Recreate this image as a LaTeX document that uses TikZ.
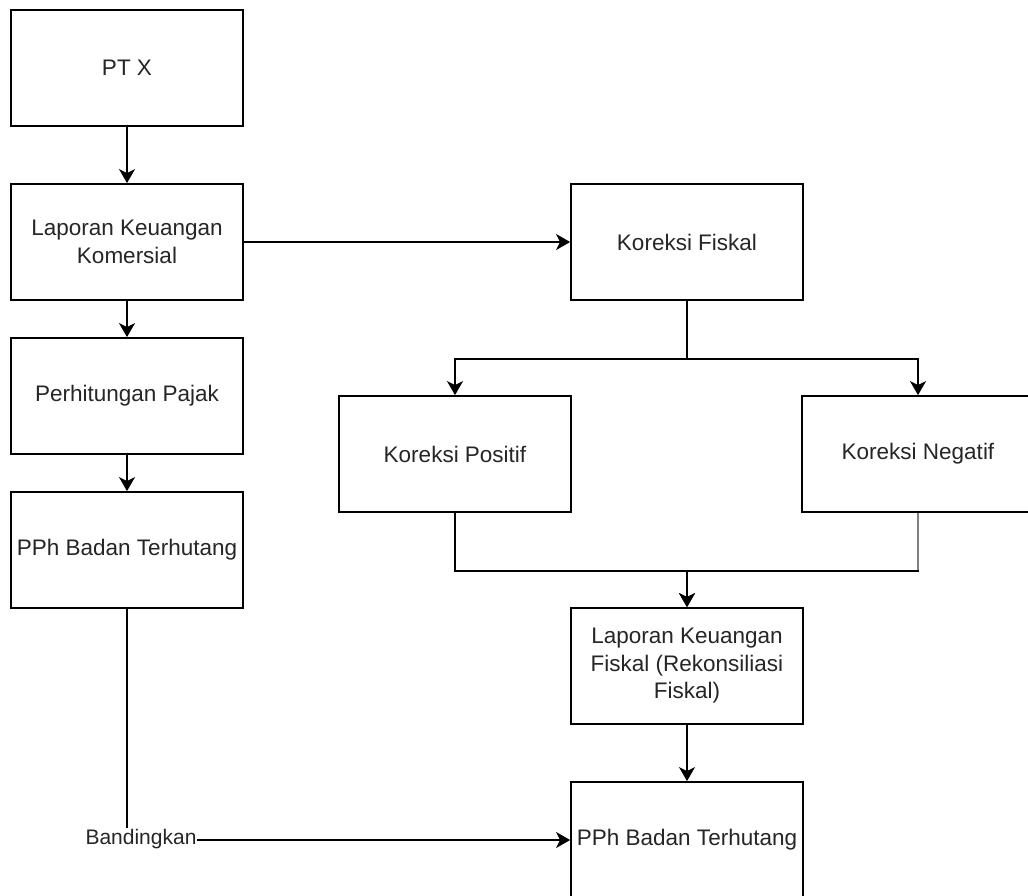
\documentclass[tikz,border=0pt]{standalone}
\usepackage{fontspec}
\setmainfont{Liberation Sans}
\usetikzlibrary{arrows.meta}
\begin{document}
\begin{tikzpicture}[x=1pt,y=-1pt,
  box/.style={draw=black, line width=1.8pt, minimum width=232pt, minimum height=116pt,
    inner sep=0pt, align=center, text=black!85, font=\fontsize{22.5}{27.5}\selectfont},
  arr/.style={draw=black, line width=1.8pt, -{Stealth[length=14pt,width=16pt,inset=4pt]}},
  lbl/.style={fill=white, inner sep=1pt, text=black!85, font=\fontsize{21}{25}\selectfont}]
\useasboundingbox (0,0) rectangle (1028,895);
\clip (0,0) rectangle (1028,895);
\fill[white] (0,0) rectangle (1028,895);
% left column
\node[box] (ptx)  at (127,68)  {PT X};
\node[box] (lkk)  at (127,242) {Laporan Keuangan\\Komersial};
\node[box] (phj)  at (127,396) {Perhitungan Pajak};
\node[box] (pphL) at (127,550) {PPh Badan Terhutang};
% right part
\node[box] (kf)   at (687,242) {Koreksi Fiskal};
\node[box] (kp)   at (455,454) {Koreksi Positif};
\node[box] (kn)   at (918,454) {Koreksi Negatif};
\node[box] (lkf)  at (687,666) {Laporan Keuangan\\Fiskal (Rekonsiliasi\\Fiskal)};
\node[box] (pphR) at (687,840) {PPh Badan Terhutang};
% connectors
\draw[arr] (ptx) -- (lkk);
\draw[arr] (lkk) -- (phj);
\draw[arr] (phj) -- (pphL);
\draw[arr] (lkk) -- (kf);
\draw[arr] (kf.south) -- ++(0,58) -| (kp.north);
\draw[arr] (kf.south) -- ++(0,58) -| (kn.north);
\draw[arr] (kp.south) -- ++(0,58) -| (lkf.north);
\draw[arr] (kn.south) -- ++(0,58) -| (lkf.north);
\draw[draw=black!50, line width=2.4pt] (kn.south) -- ++(0,57);
\draw[arr] (lkf) -- (pphR);
\draw[arr] (pphL.south) |- (pphR.west);
\node[lbl] (band) at (141,839) {Bandingkan};
\end{tikzpicture}
\end{document}
